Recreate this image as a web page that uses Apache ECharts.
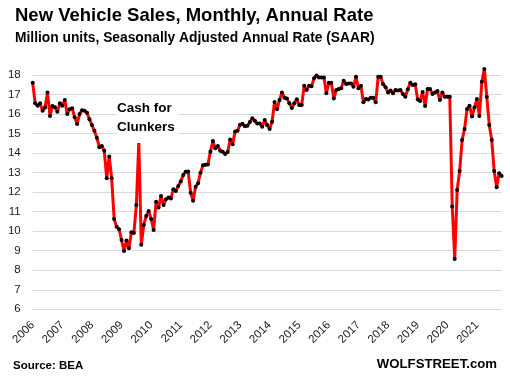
<!DOCTYPE html>
<html><head><meta charset="utf-8">
<script src="https://cdn.jsdelivr.net/npm/echarts@6/dist/echarts.min.js"></script>
<style>html,body{margin:0;padding:0;background:#fff}#c{width:510px;height:383px}</style>
</head><body><div id="c"></div>
<script>
const years = [2006,2007,2008,2009,2010,2011,2012,2013,2014,2015,2016,2017,2018,2019,2020,2021];
const sales2006 = [17.6,16.55,16.43,16.55,16.17,16.33,17.1,15.9,16.41,16.35,16.12,16.55];
const sales2007 = [16.43,16.72,16.0,16.25,16.3,15.83,15.49,16.0,16.2,16.17,16.07,15.73];
const sales2008 = [15.44,15.15,14.79,14.3,14.36,14.12,12.71,13.82,12.71,10.63,10.23,10.1];
const sales2009 = [9.55,8.99,9.52,9.13,9.95,9.91,11.34,14.59,9.3,10.32,10.78,11.04];
const sales2010 = [10.63,10.06,11.51,11.22,11.8,11.34,11.63,11.72,11.68,12.15,12.06,12.32];
const sales2011 = [12.55,12.88,13.05,13.06,11.97,11.56,12.28,12.45,13.0,13.38,13.4,13.42];
const sales2012 = [14.07,14.62,14.25,14.36,14.12,14.07,13.95,14.05,14.7,14.45,15.1,15.15];
const sales2013 = [15.45,15.5,15.38,15.4,15.59,15.78,15.66,15.52,15.52,15.35,15.7,15.44];
const sales2014 = [15.24,15.61,16.62,16.24,16.72,17.11,16.84,16.8,16.55,16.31,16.55,16.76];
const sales2015 = [16.46,16.46,17.45,17.23,17.45,17.43,17.83,17.97,17.87,17.87,17.87,17.06];
const sales2016 = [17.6,17.6,16.8,17.23,17.28,17.32,17.71,17.54,17.57,17.57,17.4,17.91];
const sales2017 = [17.32,17.45,16.6,16.77,16.75,16.84,16.84,16.6,17.91,17.91,17.52,17.37];
const sales2018 = [17.1,17.2,17.06,17.23,17.2,17.23,17.03,16.89,17.27,17.6,17.49,17.52];
const sales2019 = [16.75,16.67,17.13,16.41,17.28,17.28,17.03,17.11,17.18,16.72,17.1,16.89];
const sales2020 = [16.89,16.89,11.26,8.58,12.11,13.08,14.67,15.24,16.26,16.43,15.87,16.33];
const sales2021 = [16.77,15.9,17.66,18.31,16.89,15.44,14.67,13.08,12.25,12.97,12.83];
const yMin = 6, yMax = 18, yStep = 1;

const values = [].concat(sales2006,sales2007,sales2008,sales2009,sales2010,sales2011,sales2012,sales2013,
  sales2014,sales2015,sales2016,sales2017,sales2018,sales2019,sales2020,sales2021);
const categories = [];
years.forEach(y => { for (let m = 1; m <= 12; m++) categories.push(y + '-' + String(m).padStart(2, '0')); });
categories.length = values.length;

const FONT = 'Liberation Sans';
const chart = echarts.init(document.getElementById('c'), null, {renderer: 'canvas'});
chart.setOption({
  animation: false,
  backgroundColor: '#fff',
  grid: {left: 32.7, right: 8.4, top: 75, bottom: 73.7, containLabel: false, outerBoundsMode: 'none'},
  xAxis: {
    type: 'category', data: categories, boundaryGap: false,
    axisLine: {show: false}, axisTick: {show: false},
    axisLabel: {
      interval: (i) => i % 12 === 0, rotate: 45, margin: 14, hideOverlap: false,
      formatter: (v) => v.slice(0, 4), fontFamily: FONT, fontSize: 11.5, color: '#1a1a1a'
    },
    splitLine: {show: false}
  },
  yAxis: {
    type: 'value', min: yMin, max: yMax, interval: yStep,
    axisLine: {show: false}, axisTick: {show: false},
    axisLabel: {margin: 12, fontFamily: FONT, fontSize: 11.5, color: '#1a1a1a'},
    splitLine: {lineStyle: {color: '#d9d9d9', width: 1}}
  },
  series: [{
    type: 'line', data: values, clip: false,
    symbol: 'circle', symbolSize: 4, showAllSymbol: true,
    lineStyle: {color: '#ff0000', width: 3},
    itemStyle: {color: '#000'}
  }],
  graphic: [
    {type: 'text', left: 15, top: 6, style: {text: 'New Vehicle Sales, Monthly, Annual Rate', fontFamily: FONT, fontWeight: 'bold', fontSize: 18.5, fill: '#000'}},
    {type: 'text', left: 15, top: 31, style: {text: 'Million units, Seasonally Adjusted Annual Rate (SAAR)', fontFamily: FONT, fontWeight: 'bold', fontSize: 13.8, fill: '#000'}},
    {type: 'text', left: 117, top: 97, z: 10, style: {text: 'Cash for\nClunkers', fontFamily: FONT, fontWeight: 'bold', fontSize: 13.5, lineHeight: 19, fill: '#000', backgroundColor: '#fff', padding: [2, 4, 6, 0]}},
    {type: 'text', left: 13, top: 360, style: {text: 'Source: BEA', fontFamily: FONT, fontWeight: 'bold', fontSize: 11.5, fill: '#000'}},
    {type: 'text', right: 13, top: 358, style: {text: 'WOLFSTREET.com', fontFamily: FONT, fontWeight: 'bold', fontSize: 13.2, fill: '#000'}}
  ]
});
</script></body></html>
